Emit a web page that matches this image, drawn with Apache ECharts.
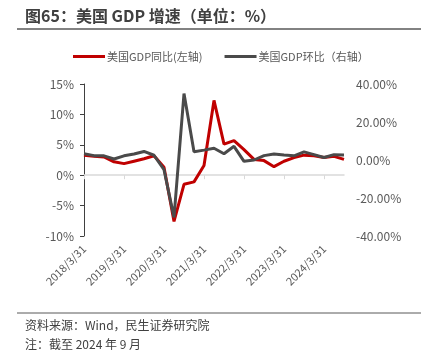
<!DOCTYPE html>
<html><head><meta charset="utf-8">
<script src="https://cdn.jsdelivr.net/npm/echarts@6/dist/echarts.min.js"></script>
<style>html,body{margin:0;padding:0;background:#fff}#c{width:434px;height:352px}</style>
</head><body><div id="c"></div>
<script>
const categories = ['2018/3/31','2018/6/30','2018/9/30','2018/12/31','2019/3/31','2019/6/30','2019/9/30','2019/12/31','2020/3/31','2020/6/30','2020/9/30','2020/12/31','2021/3/31','2021/6/30','2021/9/30','2021/12/31','2022/3/31','2022/6/30','2022/9/30','2022/12/31','2023/3/31','2023/6/30','2023/9/30','2023/12/31','2024/3/31','2024/6/30','2024/9/30'];
const yoy = [3.3,3.1,3.0,2.2,1.9,2.3,2.7,3.2,1.3,-7.6,-1.5,-1.1,1.6,12.3,5.1,5.7,4.2,2.6,2.4,1.4,2.3,2.9,3.3,3.2,2.9,3.1,2.6];
const qoq = [3.3,2.3,2.2,0.5,2.2,3.2,4.5,2.5,-5.1,-30.2,35.0,4.3,5.2,6.2,3.3,7.2,-0.7,0.0,2.3,3.2,2.6,2.2,4.3,2.8,1.3,2.8,2.6];
const leftTicks = {min:-10, max:15, interval:5};
const rightTicks = {min:-40, max:40, interval:20};
const seriesNames = ['美国GDP同比(左轴)','美国GDP环比（右轴）'];
const FONT = '"Noto Sans CJK SC", "Noto Sans", sans-serif';
const chart = echarts.init(document.getElementById('c'), null, {renderer:'canvas'});
chart.setOption({
  animation:false,
  textStyle:{fontFamily:FONT},
  graphic:[
    {type:'text', left:25, top:8, style:{text:'图65：美国 GDP 增速（单位：%）', font:'bold 16px '+FONT, fill:'#404040'}},
    {type:'line', shape:{x1:17,y1:29,x2:421,y2:29}, style:{stroke:'#595959', lineWidth:1.5}},
    {type:'line', shape:{x1:17,y1:313,x2:421,y2:313}, style:{stroke:'#595959', lineWidth:1}},
    {type:'text', left:25, top:319, style:{text:'资料来源：Wind，民生证券研究院', font:'12px '+FONT, fill:'#404040'}},
    {type:'text', left:25, top:338, style:{text:'注：截至 2024 年 9 月', font:'12px '+FONT, fill:'#404040'}}
  ],
  legend:{
    left:68, top:46, itemGap:22, itemWidth:32, itemHeight:3,
    textStyle:{color:'#595959', fontSize:11, fontFamily:FONT, padding:[0,0,0,-3]},
    data:[{name:seriesNames[0], icon:'rect'},{name:seriesNames[1], icon:'rect'}]
  },
  grid:{left:84, right:90, top:84, bottom:116, containLabel:false},
  xAxis:[
    {type:'category', data:categories, boundaryGap:false,
     axisLine:{onZero:true, lineStyle:{color:'#d9d9d9', width:1.5}},
     axisTick:{show:true, interval:3, length:4, lineStyle:{color:'#d9d9d9'}},
     axisLabel:{show:false}, splitLine:{show:false}},
    {type:'category', data:categories, boundaryGap:false, position:'bottom',
     axisLine:{show:false, onZero:false}, axisTick:{show:false},
     axisLabel:{interval:3, rotate:45, margin:11, color:'#595959', fontSize:11, fontFamily:FONT},
     splitLine:{show:false}}
  ],
  yAxis:[
    {type:'value', min:leftTicks.min, max:leftTicks.max, interval:leftTicks.interval, position:'left',
     axisLine:{show:true, lineStyle:{color:'#404040', width:1}},
     axisTick:{show:true, length:4, lineStyle:{color:'#404040'}},
     axisLabel:{formatter:'{value}%', color:'#595959', fontSize:12, margin:10, fontFamily:FONT},
     splitLine:{show:false}},
    {type:'value', min:rightTicks.min, max:rightTicks.max, interval:rightTicks.interval, position:'right',
     axisLine:{show:false}, axisTick:{show:false},
     axisLabel:{formatter:v=>v.toFixed(2)+'%', color:'#595959', fontSize:12, margin:12, fontFamily:FONT},
     splitLine:{show:false}}
  ],
  series:[
    {name:seriesNames[0], type:'line', data:yoy, yAxisIndex:0, xAxisIndex:0, symbol:'none',
     lineStyle:{color:'#C00000', width:3}, itemStyle:{color:'#C00000'}, z:2},
    {name:seriesNames[1], type:'line', data:qoq, yAxisIndex:1, xAxisIndex:0, symbol:'none',
     lineStyle:{color:'#4a4a4a', width:3}, itemStyle:{color:'#4a4a4a'}, z:3}
  ]
});
</script></body></html>
